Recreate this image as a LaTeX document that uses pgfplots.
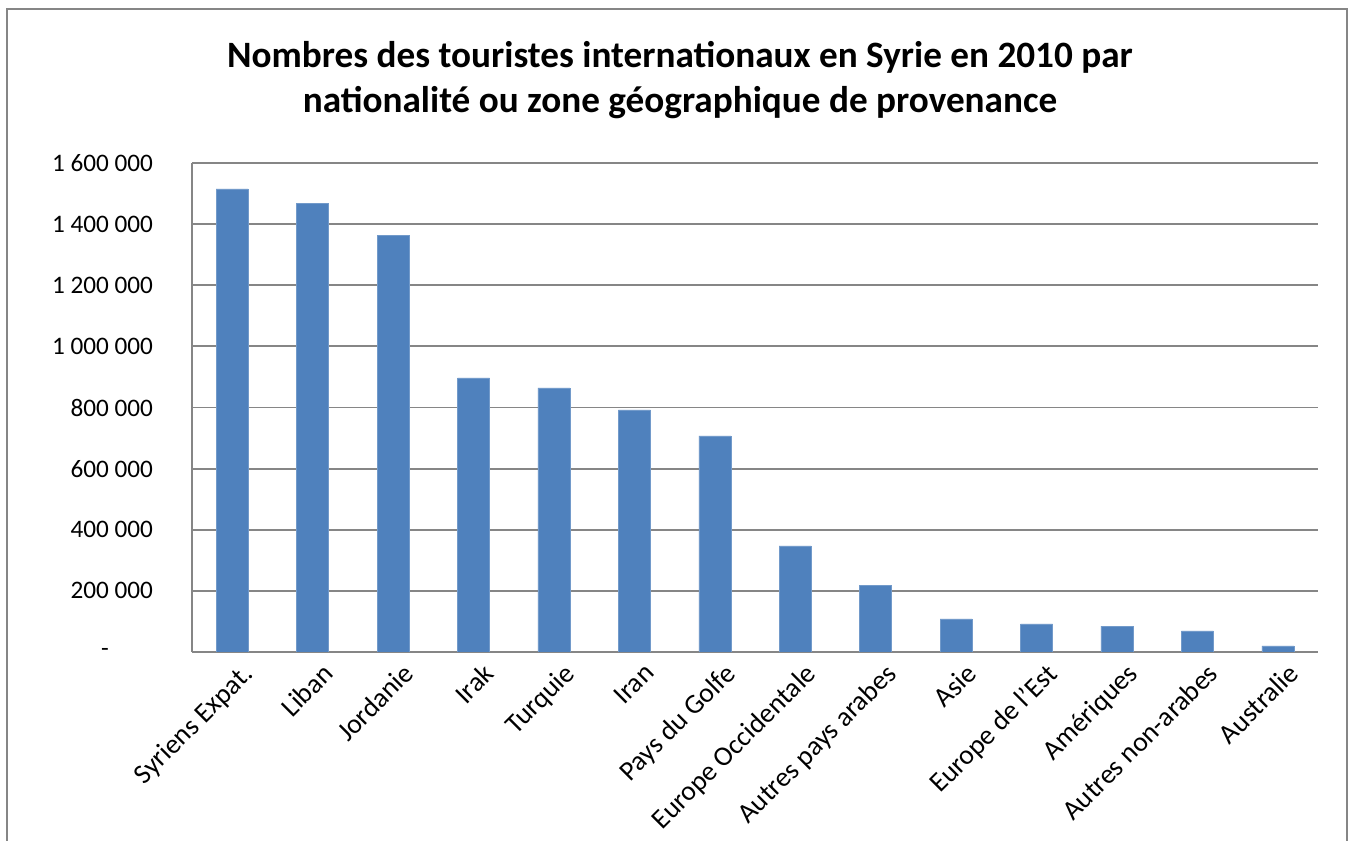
\documentclass[border=0pt]{standalone}
\usepackage{fontspec}
\setmainfont{Carlito}
\usepackage{pgfplots}
\pgfplotsset{compat=1.18}
\definecolor{barblue}{HTML}{4F81BD}
\definecolor{gridgray}{HTML}{868686}
\begin{document}
\begin{tikzpicture}[x=0.5bp,y=0.5bp]
\path[use as bounding box] (0,0) rectangle (1354,840);
\draw[gridgray, line width=1.2bp] (7,-10) -- (7,831) -- (1347,831) -- (1347,-10);
\node[align=center, font=\fontsize{18.6bp}{22.5bp}\selectfont\bfseries] at (680,760)
  {Nombres des touristes internationaux en Syrie en 2010 par\\nationalité ou zone géographique de provenance};
\begin{axis}[
  at={(96bp,94bp)}, anchor=south west,
  scale only axis, width=563bp, height=244.5bp,
  xmin=-0.5, xmax=13.5, ymin=0, ymax=1600000,
  scaled y ticks=false,
  ytick={0,200000,400000,600000,800000,1000000,1200000,1400000,1600000},
  yticklabels={{-\hspace*{22bp}},200 000,400 000,600 000,800 000,1 000 000,1 200 000,1 400 000,1 600 000},
  ymajorgrids, grid style={gridgray, line width=0.9bp},
  axis x line*=bottom, axis y line*=left,
  axis line style={gridgray, line width=0.9bp, -},
  major tick length=0pt,
  xtick=data,
  xticklabels={Syriens Expat.,Liban,Jordanie,Irak,Turquie,Iran,Pays du Golfe,Europe Occidentale,Autres pays arabes,Asie,Europe de l'Est,Amériques,Autres non-arabes,Australie},
  x tick label style={rotate=45, anchor=north east, font=\fontsize{13.8bp}{16bp}\selectfont, yshift=-3bp, xshift=3bp},
  y tick label style={font=\fontsize{12.6bp}{14bp}\selectfont, xshift=-16bp},
  ybar, bar width=16bp,
]
\addplot[fill=barblue, draw=barblue!80!white, line width=0.3bp] coordinates {
 (0,1515000) (1,1469000) (2,1364000) (3,897000) (4,864000) (5,792000) (6,707000)
 (7,347000) (8,219000) (9,108000) (10,92000) (11,85000) (12,69000) (13,20000)
};
\end{axis}
\end{tikzpicture}
\end{document}
